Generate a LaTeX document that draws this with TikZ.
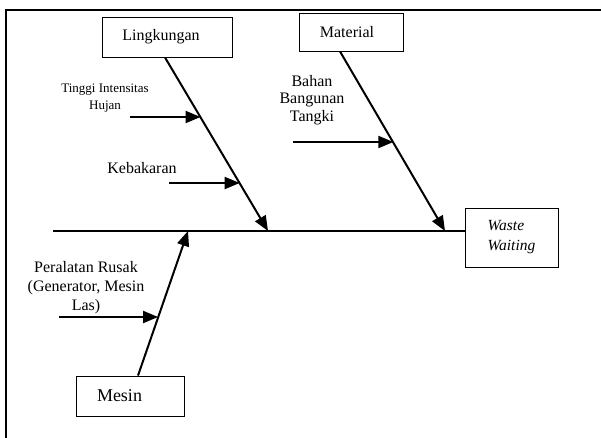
\documentclass[tikz,border=0pt]{standalone}
\usepackage{fontspec}
\setmainfont{Liberation Serif}
\usetikzlibrary{arrows.meta,calc}
\tikzset{
  catbox/.style={draw, line width=0.9pt, inner sep=0pt, font=\fontsize{16}{19}\selectfont},
  spine/.style={line width=2pt, -{Triangle[length=15pt,width=12pt]}},
  rib/.style={line width=2pt, -{Triangle[length=15pt,width=12pt]}},
  lbl/.style={align=center, inner sep=0pt, font=\fontsize{16}{19}\selectfont},
}
\begin{document}
\begin{tikzpicture}[x=1pt,y=-1pt]
\useasboundingbox (0,0) rectangle (601,437);
\clip (0,0) rectangle (601,437);
% outer frame
\draw[line width=2.4pt] (640,10) -| (6,470);
% category boxes
\node[catbox, minimum width=130pt, minimum height=40pt] (lingk) at (167,37) {Lingkungan\hspace*{12pt}};
\node[catbox, minimum width=104pt, minimum height=38pt] (mat) at (351,32) {Material\hspace*{8pt}};
\node[catbox, minimum width=108pt, minimum height=40pt, font=\fontsize{18}{21}\selectfont] (mesin) at (130,396) {Mesin\hspace*{21pt}};
\node[catbox, minimum width=93pt, minimum height=59pt, align=left, font=\fontsize{15.5}{20}\selectfont\itshape] (waste) at (511.5,237.5) {Waste\\Waiting};
% main line
\coordinate (h0) at (53,231);
\coordinate (hl) at (268,231);
\coordinate (hm) at (445,231);
\coordinate (hs) at (188,231);
\draw[line width=2pt] (h0) -- (h0 -| waste.west);
% spines
\coordinate (ls) at ($(lingk.south)+(-2,0)$);
\coordinate (ms) at ($(mat.south)+(-11,0)$);
\coordinate (ss) at ($(mesin.north)+(8,0)$);
\draw[spine] (ls) -- (hl);
\draw[spine] (ms) -- (hm);
\draw[spine] (ss) -- (hs);
% ribs
\coordinate (r1) at ($(ls)!0.345!(hl)$);
\coordinate (r2) at ($(ls)!0.725!(hl)$);
\coordinate (r3) at ($(ms)!0.508!(hm)$);
\coordinate (r4) at ($(ss)!0.402!(hs)$);
\coordinate (t1) at (130,117);
\coordinate (t2) at (169,183);
\coordinate (t3) at (293,142);
\coordinate (t4) at (59,317);
\draw[rib] (t1) -- (t1 -| r1);
\draw[rib] (t2) -- (t2 -| r2);
\draw[rib] (t3) -- (t3 -| r3);
\draw[rib] (t4) -- (t4 -| r4);
% labels
\node[lbl, font=\fontsize{13}{17}\selectfont] (c1) at (105,98) {Tinggi Intensitas\\Hujan};
\node[lbl] (c2) at (142,168) {Kebakaran};
\node[lbl, font=\fontsize{16}{17.5}\selectfont] (c3) at (312,100) {Bahan\\Bangunan\\Tangki};
\node[lbl, font=\fontsize{16}{19}\selectfont] (c4) at (86,288) {Peralatan Rusak\\(Generator, Mesin\\Las)};
\end{tikzpicture}
\end{document}
